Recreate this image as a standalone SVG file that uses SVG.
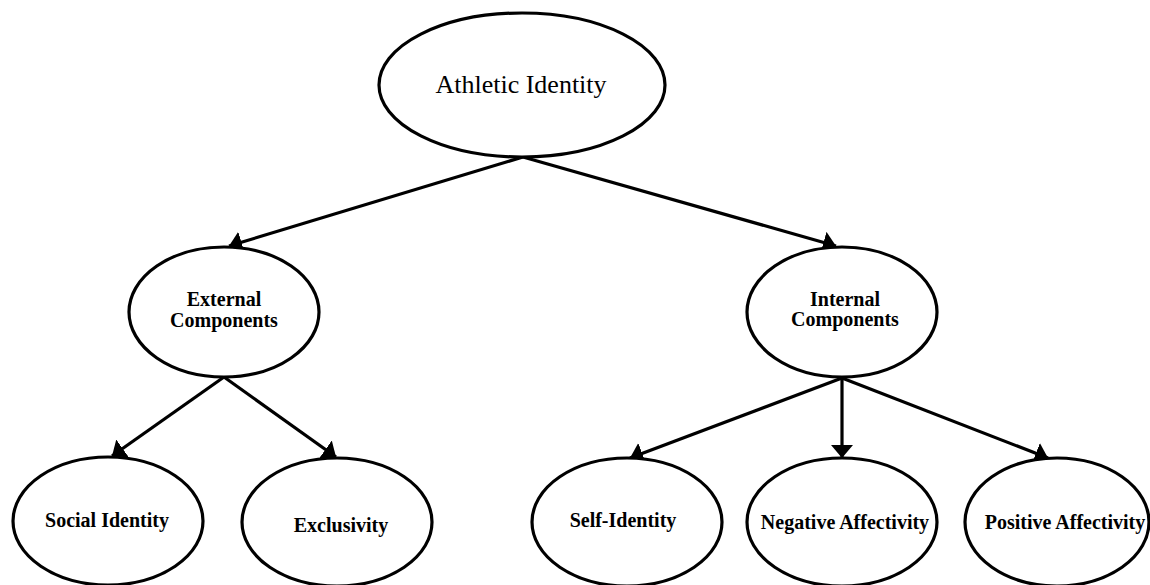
<svg xmlns="http://www.w3.org/2000/svg" width="1150" height="585" viewBox="0 0 1150 585">
  <style>
    .node { fill: #ffffff; stroke: #000000; stroke-width: 3.2; }
    .edge { fill: none; stroke: #000000; stroke-width: 3.2; marker-end: url(#arrow); }
    .lbl { font-family: "Liberation Serif", "Times New Roman", serif; font-size: 20px; font-weight: bold; fill: #000000; text-anchor: middle; }
    .title { font-family: "Liberation Serif", "Times New Roman", serif; font-size: 26px; fill: #000000; text-anchor: middle; }
  </style>
  <defs>
    <marker id="arrow" markerUnits="userSpaceOnUse" markerWidth="16" markerHeight="24" refX="13" refY="11" orient="auto">
      <path d="M0,0 L13,11 L0,22 z" fill="#000000"/>
    </marker>
  </defs>
  <rect width="1150" height="585" fill="#ffffff"/>

  <g id="connectors">
    <line class="edge" x1="523" y1="157" x2="229" y2="246"/>
    <line class="edge" x1="523" y1="157" x2="836" y2="246"/>
    <line class="edge" x1="224" y1="377" x2="112" y2="456"/>
    <line class="edge" x1="224" y1="377" x2="336" y2="457"/>
    <line class="edge" x1="842" y1="378" x2="630" y2="458"/>
    <line class="edge" x1="842" y1="378" x2="842" y2="458"/>
    <line class="edge" x1="842" y1="378" x2="1048" y2="458"/>
  </g>

  <g id="athletic-identity">
    <ellipse class="node" cx="522" cy="85" rx="143" ry="72"/>
    <text class="title" x="521" y="93">Athletic Identity</text>
  </g>

  <g id="external-components">
    <ellipse class="node" cx="224" cy="312" rx="95" ry="65"/>
    <text class="lbl" x="224" y="306">External</text>
    <text class="lbl" x="224" y="327">Components</text>
  </g>

  <g id="internal-components">
    <ellipse class="node" cx="842" cy="312" rx="95" ry="65"/>
    <text class="lbl" x="845" y="306">Internal</text>
    <text class="lbl" x="845" y="326">Components</text>
  </g>

  <g id="social-identity">
    <ellipse class="node" cx="108" cy="521" rx="95" ry="64"/>
    <text class="lbl" x="107" y="527">Social Identity</text>
  </g>

  <g id="exclusivity">
    <ellipse class="node" cx="337" cy="522" rx="95" ry="64"/>
    <text class="lbl" x="341" y="532">Exclusivity</text>
  </g>

  <g id="self-identity">
    <ellipse class="node" cx="627" cy="522" rx="95" ry="64"/>
    <text class="lbl" x="623" y="527">Self-Identity</text>
  </g>

  <g id="negative-affectivity">
    <ellipse class="node" cx="842" cy="522" rx="95" ry="64"/>
    <text class="lbl" x="845" y="529">Negative Affectivity</text>
  </g>

  <g id="positive-affectivity">
    <ellipse class="node" cx="1057" cy="522" rx="92" ry="64"/>
    <text class="lbl" x="1065" y="529">Positive Affectivity</text>
  </g>
</svg>
